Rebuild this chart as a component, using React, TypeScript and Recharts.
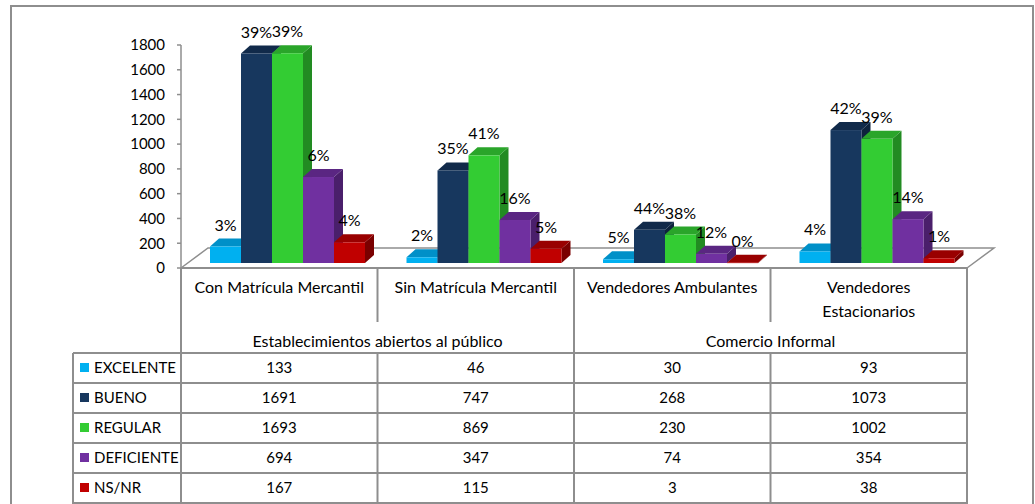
import React from 'react';
import { BarChart, Bar, XAxis, YAxis, LabelList } from 'recharts';

const categories = [
  'Con Matrícula Mercantil',
  'Sin Matrícula Mercantil',
  'Vendedores Ambulantes',
  'Vendedores Estacionarios',
];
const groups = ['Establecimientos abiertos al público', 'Comercio Informal'];
const seriesNames = ['EXCELENTE', 'BUENO', 'REGULAR', 'DEFICIENTE', 'NS/NR'];

const excelente = [133, 46, 30, 93];
const bueno = [1691, 747, 268, 1073];
const regular = [1693, 869, 230, 1002];
const deficiente = [694, 347, 74, 354];
const nsnr = [167, 115, 3, 38];

const excelentePct = ['3%', '2%', '5%', '4%'];
const buenoPct = ['39%', '35%', '44%', '42%'];
const regularPct = ['39%', '41%', '38%', '39%'];
const deficientePct = ['6%', '16%', '12%', '14%'];
const nsnrPct = ['4%', '5%', '0%', '1%'];

const yTicks = [0, 200, 400, 600, 800, 1000, 1200, 1400, 1600, 1800];

const keys = ['excelente', 'bueno', 'regular', 'deficiente', 'nsnr'];
const values = [excelente, bueno, regular, deficiente, nsnr];
const pcts = [excelentePct, buenoPct, regularPct, deficientePct, nsnrPct];
const colors = [
  { front: '#00B0F0', top: '#0090C8', side: '#0079A8' },
  { front: '#17375E', top: '#112A4A', side: '#0E233D' },
  { front: '#33CC33', top: '#2AA52A', side: '#228B22' },
  { front: '#7030A0', top: '#5A2682', side: '#4A1F6B' },
  { front: '#C00000', top: '#990000', side: '#7A0000' },
];

const data = categories.map((name, i) => {
  const row: Record<string, string | number> = { name };
  keys.forEach((k, s) => {
    row[k] = values[s][i];
    row[k + 'Pct'] = pcts[s][i];
  });
  return row;
});

// layout
const W = 1035;
const H = 504;
const PLOT_L = 181;
const PLOT_R = 967;
const PLOT_T = 45;
const PLOT_B = 268;
const YAXIS_W = 60;
const XAXIS_H = 30;
const BAND = (PLOT_R - PLOT_L) / categories.length;
const DX = 7; // bars sit a little behind the front edge of the floor
const DY = -5;
const OX = 9; // bar depth
const OY = -8;
const FLOOR_OX = 27;
const FLOOR_OY = -20;
const ROW_TOP = 353;
const ROW_H = 30;
const GRID = '#8e8e8e';
const FONT = 'Lato, "Open Sans", sans-serif';

const Bar3D = (props: any) => {
  const { x, y, width, height, colorIdx } = props;
  if (width == null || height == null) return null;
  const c = colors[colorIdx];
  const fx = x + DX;
  const fy = y + DY;
  const w = width;
  const h = Math.max(height, 0.5);
  return (
    <g>
      <polygon
        points={`${fx + w},${fy} ${fx + w + OX},${fy + OY} ${fx + w + OX},${fy + h + OY} ${fx + w},${fy + h}`}
        fill={c.side}
      />
      <polygon
        points={`${fx},${fy} ${fx + OX},${fy + OY} ${fx + w + OX},${fy + OY} ${fx + w},${fy}`}
        fill={c.top}
      />
      <rect x={fx} y={fy} width={w} height={h} fill={c.front} />
    </g>
  );
};

const PctLabel = (props: any) => {
  const vb = props.viewBox || props;
  const x = vb.x ?? props.x;
  const y = vb.y ?? props.y;
  const width = vb.width ?? props.width;
  return (
    <text
      x={x + DX + width / 2}
      y={y + DY - 16}
      textAnchor="middle"
      fontSize={16}
      fontFamily={FONT}
      fill="#000"
    >
      {props.value}
    </text>
  );
};

const splitLabel = (s: string) => {
  if (s.length <= 23) return [s];
  const cut = s.lastIndexOf(' ');
  return [s.slice(0, cut), s.slice(cut + 1)];
};

const TableColumn = (props: any) => {
  const { x, payload, index } = props;
  const lines = splitLabel(String(payload.value));
  return (
    <g fontFamily={FONT} fill="#000">
      {lines.map((l, k) => (
        <text key={k} x={x} y={PLOT_B + 25 + k * 24} textAnchor="middle" fontSize={16}>
          {l}
        </text>
      ))}
      {values.map((v, s) => (
        <text key={s} x={x} y={ROW_TOP + s * ROW_H + 20} textAnchor="middle" fontSize={15}>
          {v[index]}
        </text>
      ))}
    </g>
  );
};

const Frame = () => {
  const edges = categories.map((_, i) => PLOT_L + i * BAND).concat(PLOT_R);
  const groupMid = [(edges[0] + edges[2]) / 2, (edges[2] + edges[4]) / 2];
  const rowLines = seriesNames.map((_, s) => ROW_TOP + s * ROW_H).concat(ROW_TOP + seriesNames.length * ROW_H);
  return (
    <svg width={W} height={H} style={{ position: 'absolute', left: 0, top: 0 }}>
      <rect x={11} y={6} width={1022} height={530} fill="#fff" stroke={GRID} strokeWidth={2} />
      {/* floor */}
      <polyline
        points={`${PLOT_L},${PLOT_B} ${PLOT_L + FLOOR_OX},${PLOT_B + FLOOR_OY} ${PLOT_R + FLOOR_OX},${PLOT_B + FLOOR_OY} ${PLOT_R},${PLOT_B}`}
        fill="none"
        stroke={GRID}
        strokeWidth={1.5}
      />
      <line x1={PLOT_L} y1={PLOT_B} x2={PLOT_R} y2={PLOT_B} stroke={GRID} strokeWidth={2} />
      {/* category and group rows */}
      {edges.map((ex, i) => (
        <line
          key={'v' + i}
          x1={ex}
          y1={PLOT_B}
          x2={ex}
          y2={i % 2 === 1 ? ROW_TOP - 31 : ROW_TOP}
          stroke={GRID}
          strokeWidth={2}
        />
      ))}
      {groups.map((g, i) => (
        <text
          key={g}
          x={groupMid[i]}
          y={ROW_TOP - 6}
          textAnchor="middle"
          fontFamily={FONT}
          fontSize={16}
          fill="#000"
        >
          {g}
        </text>
      ))}
      {/* data table */}
      {rowLines.map((ry, r) => (
        <line key={'h' + r} x1={73} y1={ry} x2={PLOT_R} y2={ry} stroke={GRID} strokeWidth={2} />
      ))}
      {[73, ...edges].map((ex, i) => (
        <line key={'dv' + i} x1={ex} y1={ROW_TOP} x2={ex} y2={H} stroke={GRID} strokeWidth={2} />
      ))}
      {seriesNames.map((n, s) => (
        <g key={n}>
          <rect x={80} y={ROW_TOP + s * ROW_H + 10} width={9} height={9} fill={colors[s].front} />
          <text x={94} y={ROW_TOP + s * ROW_H + 20} fontFamily={FONT} fontSize={15} fill="#000">
            {n}
          </text>
        </g>
      ))}
    </svg>
  );
};

export default function App() {
  return (
    <div style={{ position: 'absolute', left: 0, top: 0, width: W, height: H, background: '#fff' }}>
      <Frame />
      <div style={{ position: 'absolute', left: 0, top: 0 }}>
        <BarChart
          width={W}
          height={H}
          data={data}
          margin={{ top: PLOT_T, right: W - PLOT_R, bottom: H - PLOT_B - XAXIS_H, left: PLOT_L - YAXIS_W }}
          barCategoryGap={22}
          barGap={0}
        >
          <XAxis
            dataKey="name"
            height={XAXIS_H}
            axisLine={false}
            tickLine={false}
            interval={0}
            tick={<TableColumn />}
          />
          <YAxis
            width={YAXIS_W}
            domain={[0, 1800]}
            ticks={yTicks}
            interval={0}
            tickSize={4}
            tickMargin={12}
            axisLine={{ stroke: GRID, strokeWidth: 1.5 }}
            tickLine={{ stroke: GRID, strokeWidth: 1.5 }}
            tick={{ fontSize: 15, fill: '#000', fontFamily: FONT }}
          />
          {keys.map((k, s) => (
            <Bar
              key={k}
              dataKey={k}
              name={seriesNames[s]}
              isAnimationActive={false}
              shape={(p: any) => <Bar3D {...p} colorIdx={s} />}
            >
              <LabelList dataKey={k + 'Pct'} content={<PctLabel />} />
            </Bar>
          ))}
        </BarChart>
      </div>
    </div>
  );
}
